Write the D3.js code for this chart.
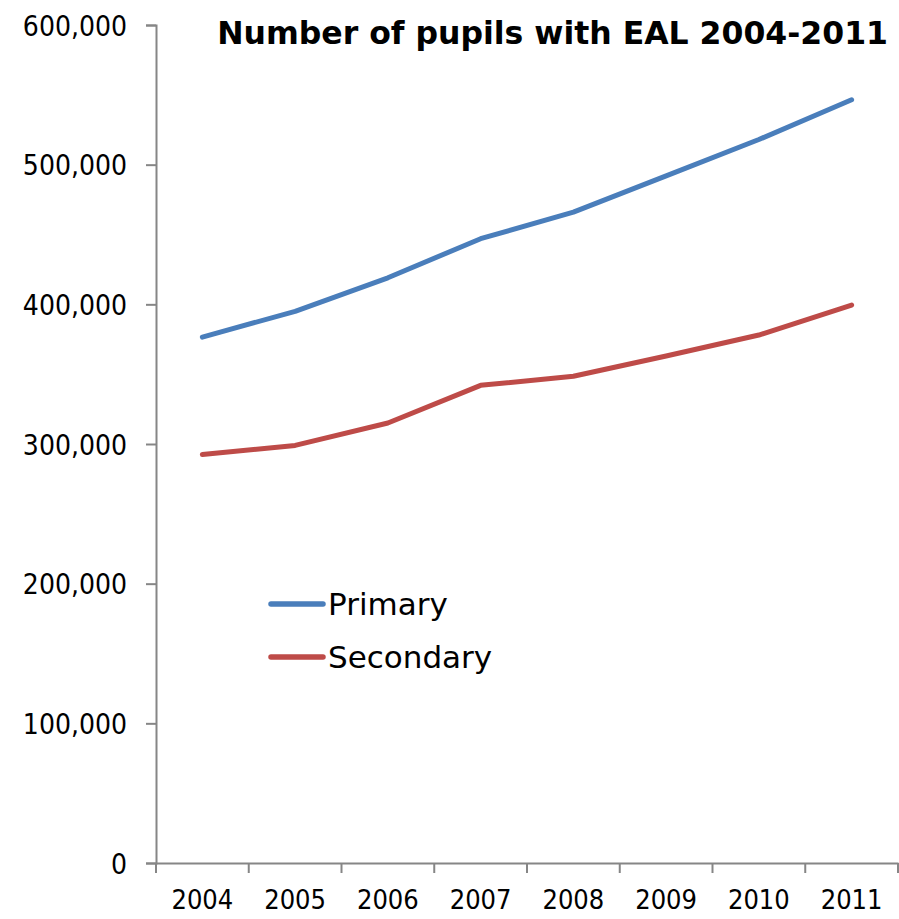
<!DOCTYPE html>
<html>
<head>
<meta charset="utf-8">
<script src="https://cdn.jsdelivr.net/npm/d3@7"></script>
<style>
  body { margin: 0; background: #fff; }
  svg text { font-family: "DejaVu Sans", sans-serif; fill: #000; }
  svg .num { font-family: "DejaVu Sans Condensed", "DejaVu Sans", sans-serif; font-stretch: condensed; }
</style>
</head>
<body>
<div id="chart"></div>
<script>
// data
var years = ["2004", "2005", "2006", "2007", "2008", "2009", "2010", "2011"];
var primary = [376500, 395000, 419000, 447000, 466000, 492000, 518000, 546500];
var secondary = [292500, 299000, 315000, 342000, 348500, 363000, 378000, 399500];
var seriesNames = ["Primary", "Secondary"];
var seriesColors = ["#4A7EBB", "#BE4B48"];
var yTicks = [0, 100000, 200000, 300000, 400000, 500000, 600000];

var width = 899, height = 919;
var margin = { top: 25, right: 1, bottom: 56, left: 156 };

var svg = d3.select("#chart").append("svg")
    .attr("width", width)
    .attr("height", height);

var x = d3.scaleBand()
    .domain(years)
    .range([margin.left, width - margin.right]);

var y = d3.scaleLinear()
    .domain([0, 600000])
    .range([height - margin.bottom, margin.top]);

var fmt = d3.format(",");

// y axis
var yAxis = svg.append("g")
    .attr("transform", "translate(" + margin.left + ",0)")
    .call(d3.axisLeft(y).tickValues(yTicks).tickFormat(fmt).tickSize(10).tickPadding(19));
yAxis.selectAll("text")
    .attr("class", "num")
    .style("font-size", "28px")
    .attr("dy", "0.36em");

// x axis, ticks at band edges
var xAxis = svg.append("g")
    .attr("transform", "translate(0," + y(0) + ")")
    .call(d3.axisBottom(x).tickSize(0).tickPadding(27));
xAxis.selectAll("text")
    .attr("class", "num")
    .style("font-size", "27px")
    .attr("dy", "0.71em");
xAxis.selectAll(".edge")
    .data(d3.range(years.length + 1))
    .enter().append("line")
    .attr("class", "edge")
    .attr("x1", function(i) { return margin.left + i * x.step(); })
    .attr("x2", function(i) { return margin.left + i * x.step(); })
    .attr("y1", 0)
    .attr("y2", 10);

svg.selectAll(".domain, .tick line, .edge")
    .attr("stroke", "#868686")
    .attr("stroke-width", 2);

// lines
var line = d3.line()
    .x(function(d, i) { return x(years[i]) + x.bandwidth() / 2; })
    .y(function(d) { return y(d); });

[primary, secondary].forEach(function(s, k) {
    svg.append("path")
        .datum(s)
        .attr("fill", "none")
        .attr("stroke", seriesColors[k])
        .attr("stroke-width", 5)
        .attr("stroke-linecap", "round")
        .attr("stroke-linejoin", "round")
        .attr("d", line);
});

// legend
var legend = svg.selectAll(".legend")
    .data(seriesNames)
    .enter().append("g")
    .attr("class", "legend")
    .attr("transform", function(d, i) { return "translate(271," + (604 + i * 53) + ")"; });

legend.append("line")
    .attr("x1", 0).attr("x2", 52)
    .attr("stroke", function(d, i) { return seriesColors[i]; })
    .attr("stroke-width", 5.5)
    .attr("stroke-linecap", "round");

legend.append("text")
    .attr("x", 57)
    .attr("dy", "0.36em")
    .style("font-size", "31px")
    .text(function(d) { return d; });

// title
svg.append("text")
    .attr("x", 888)
    .attr("y", 44)
    .attr("text-anchor", "end")
    .style("font-size", "31.5px")
    .style("font-weight", "bold")
    .text("Number of pupils with EAL 2004-2011");
</script>
</body>
</html>
